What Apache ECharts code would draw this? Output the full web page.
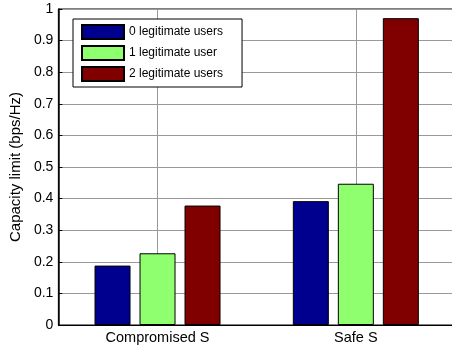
<!DOCTYPE html>
<html>
<head>
<meta charset="utf-8">
<script src="https://cdn.jsdelivr.net/npm/echarts@6/dist/echarts.min.js"></script>
<style>
  html, body { margin: 0; padding: 0; background: #fff; overflow: hidden; width: 452px; height: 347px; }
  #chart { width: 457px; height: 347px; }
</style>
</head>
<body>
<div id="chart"></div>
<script>
// Scenarios along the x axis
const categories = ['Compromised S', 'Safe S'];

// Capacity limit (bps/Hz) per number of legitimate users
const seriesNames = ['0 legitimate users', '1 legitimate user', '2 legitimate users'];
const zeroUsers = [0.188, 0.392];
const oneUser = [0.227, 0.447];
const twoUsers = [0.378, 0.971];

const yTicks = [0, 0.1, 0.2, 0.3, 0.4, 0.5, 0.6, 0.7, 0.8, 0.9, 1];

const colors = ['#00008f', '#8fff70', '#800000'];
const values = [zeroUsers, oneUser, twoUsers];
const font = "'Liberation Sans', Arial, Helvetica, sans-serif";

const chart = echarts.init(document.getElementById('chart'), null, { renderer: 'canvas' });

chart.setOption({
  animation: false,
  backgroundColor: '#fff',
  textStyle: { fontFamily: font },
  grid: {
    left: 54, right: 2, top: 9, bottom: 22,
    show: true, borderColor: '#000', borderWidth: 1, backgroundColor: 'transparent'
  },
  legend: {
    orient: 'vertical',
    left: 73, top: 19,
    padding: [5, 19, 5, 8],
    itemWidth: 42, itemHeight: 14, itemGap: 5,
    icon: 'rect',
    backgroundColor: '#fff',
    borderColor: '#000', borderWidth: 1,
    textStyle: { fontFamily: font, fontSize: 12, color: '#000' },
    data: seriesNames
  },
  xAxis: {
    type: 'category',
    data: categories,
    axisLine: { show: true, lineStyle: { color: '#000', width: 1 } },
    axisTick: { show: false },
    axisLabel: { fontFamily: font, fontSize: 14.5, color: '#000', margin: 5 },
    splitLine: { show: true, alignWithLabel: true, lineStyle: { color: '#999', width: 1 } }
  },
  yAxis: {
    type: 'value',
    min: 0, max: 1, interval: 0.1,
    name: 'Capacity limit (bps/Hz)',
    nameLocation: 'middle',
    nameGap: 30,
    nameTextStyle: { fontFamily: font, fontSize: 15, color: '#000' },
    axisLine: { show: true, lineStyle: { color: '#000', width: 1.5 } },
    axisTick: { show: true, inside: true, length: 4, lineStyle: { color: '#000' } },
    axisLabel: {
      fontFamily: font, fontSize: 14, color: '#000', margin: 5,
      formatter: v => {
        const t = yTicks.find(k => Math.abs(k - v) < 1e-9);
        return t === undefined ? '' : String(t);
      }
    },
    splitLine: { show: true, lineStyle: { color: '#999', width: 1 } }
  },
  series: seriesNames.map((name, i) => ({
    name,
    type: 'bar',
    data: values[i],
    barWidth: 36,
    barGap: '25%',
    itemStyle: { color: colors[i], borderColor: '#000', borderWidth: 1 }
  }))
});
</script>
</body>
</html>
